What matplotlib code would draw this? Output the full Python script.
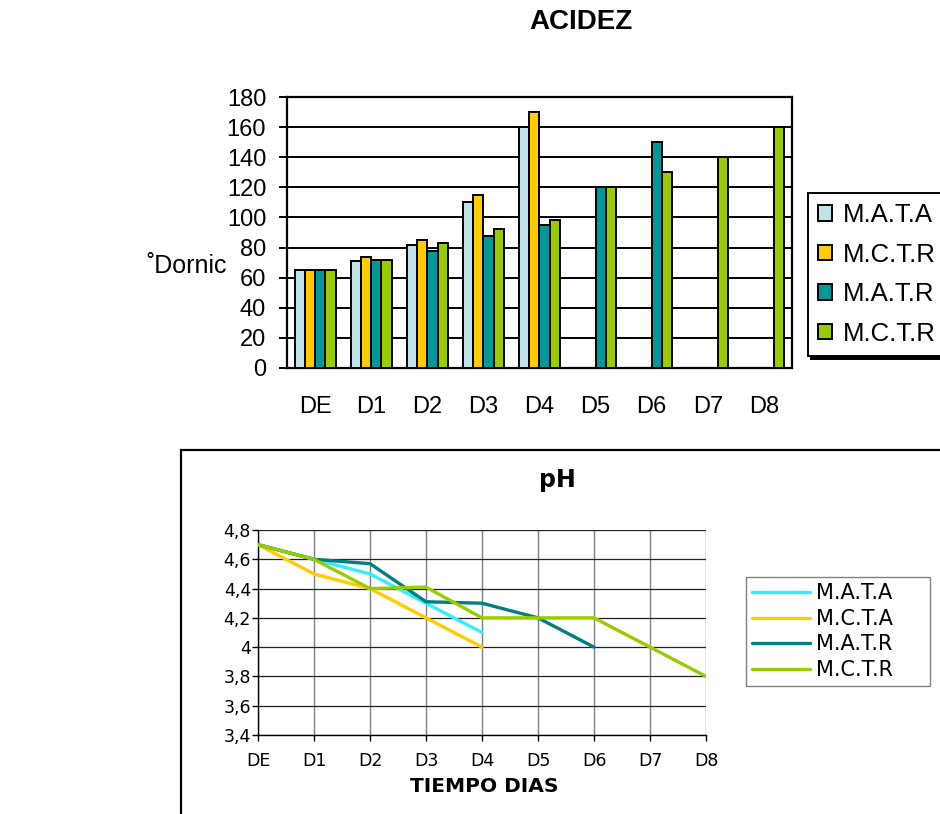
import numpy as np
import matplotlib
matplotlib.use("Agg")
import matplotlib.pyplot as plt
from matplotlib.patches import Rectangle
from matplotlib.ticker import FuncFormatter, MultipleLocator

plt.rcParams['font.family'] = ['Liberation Sans', 'DejaVu Sans']

# --- data ---
days = ['DE', 'D1', 'D2', 'D3', 'D4', 'D5', 'D6', 'D7', 'D8']
nan = np.nan

acid_labels = ['M.A.T.A', 'M.C.T.R', 'M.A.T.R', 'M.C.T.R']
acid_mata = [65, 71, 82, 110, 160, nan, nan, nan, nan]
acid_mcta = [65, 74, 85, 115, 170, nan, nan, nan, nan]
acid_matr = [65, 72, 78, 88, 95, 120, 150, nan, nan]
acid_mctr = [65, 72, 83, 92, 98, 120, 130, 140, 160]
acid_colors = ['#BFE3E6', '#FFCC00', '#009999', '#99CC00']

ph_labels = ['M.A.T.A', 'M.C.T.A', 'M.A.T.R', 'M.C.T.R']
ph_mata = [4.7, 4.6, 4.5, 4.3, 4.1, nan, nan, nan, nan]
ph_mcta = [4.7, 4.5, 4.4, 4.2, 4.0, nan, nan, nan, nan]
ph_matr = [4.7, 4.6, 4.57, 4.31, 4.3, 4.2, 4.0, nan, nan]
ph_mctr = [4.7, 4.6, 4.4, 4.41, 4.2, 4.2, 4.2, 4.0, 3.8]
ph_colors = ['#33EEFF', '#FFCC00', '#008080', '#99CC00']

W, H = 940, 814
fig = plt.figure(figsize=(W / 100, H / 100), dpi=100)

def fx(px):
    return px / W

def fy(py):
    return 1 - py / H

# --- ACIDEZ bar chart ---
ax1 = fig.add_axes([fx(287), fy(368), fx(792) - fx(287), fy(97) - fy(368)])
x = np.arange(len(days))
bw = 0.183
series = [acid_mata, acid_mcta, acid_matr, acid_mctr]
for i, (vals, col, lab) in enumerate(zip(series, acid_colors, acid_labels)):
    ax1.bar(x + (i - 1.5) * bw, vals, bw, color=col, edgecolor='black',
            linewidth=1.4, label=lab, zorder=3)
ax1.set_xlim(-0.5, len(days) - 0.5)
ax1.set_ylim(0, 180)
ax1.yaxis.set_major_locator(MultipleLocator(20))
ax1.grid(axis='y', color='black', linewidth=1.4, zorder=0)
ax1.set_xticks(x)
ax1.set_xticklabels(days)
ax1.tick_params(axis='x', length=0, pad=20, labelsize=17)
ax1.tick_params(axis='y', length=6, width=1.4, labelsize=17, pad=9)
for s in ax1.spines.values():
    s.set_linewidth(1.6)
fig.text(fx(581), fy(22), 'ACIDEZ', ha='center', va='center',
         fontsize=20, fontweight='bold')
fig.text(fx(146), fy(266), '˚Dornic', ha='left', va='center', fontsize=18)

leg1 = ax1.legend(loc='upper left', bbox_to_anchor=(fx(808), fy(193)),
                  bbox_transform=fig.transFigure, frameon=True, fancybox=False,
                  fontsize=18.5, handlelength=0.55, handleheight=0.55,
                  handletextpad=0.4, labelspacing=0.6, borderpad=0.4,
                  borderaxespad=0, shadow={'color': 'black', 'alpha': 1})
leg1.get_frame().set_edgecolor('black')
leg1.get_frame().set_linewidth(1.4)

# --- pH chart frame ---
fig.patches.append(Rectangle((fx(181), -0.05), 1.0, fy(450) + 0.05,
                             transform=fig.transFigure, fill=False,
                             edgecolor='black', linewidth=1.6, zorder=0))

ph_font = ['DejaVu Sans']
ax2 = fig.add_axes([fx(258), fy(735), fx(706) - fx(258), fy(530) - fy(735)])
ph_series = [ph_mata, ph_mcta, ph_matr, ph_mctr]
order = [2, 0, 1, 3]
for i in order:
    ax2.plot(x, ph_series[i], color=ph_colors[i], linewidth=2.4,
             solid_joinstyle='round', solid_capstyle='round',
             label=ph_labels[i], zorder=3 + i)
ax2.set_xlim(0, 8)
ax2.set_ylim(3.4, 4.8)
ax2.yaxis.set_major_locator(MultipleLocator(0.2))
ax2.yaxis.set_major_formatter(FuncFormatter(
    lambda v, p: f"{round(v, 1):g}".replace('.', ',')))
ax2.set_xticks(x)
ax2.set_xticklabels(days)
ax2.grid(axis='x', color='#808080', linewidth=1.0, zorder=0)
ax2.grid(axis='y', color='#202020', linewidth=0.9, zorder=0)
ax2.spines['top'].set_visible(False)
ax2.spines['right'].set_visible(False)
ax2.spines['left'].set_linewidth(1.0)
ax2.spines['bottom'].set_linewidth(1.0)
ax2.tick_params(axis='y', labelsize=12.5, length=4, width=1.0, pad=1)
ax2.tick_params(axis='x', labelsize=12.5, length=4, width=1.0, pad=8)
for lbl in ax2.get_xticklabels() + ax2.get_yticklabels():
    lbl.set_family(ph_font)
fig.text(fx(484), fy(786), 'TIEMPO DIAS', ha='center', va='center',
         fontsize=14.5, fontweight='bold', family=ph_font)
fig.text(fx(557), fy(480), 'pH', ha='center', va='center',
         fontsize=17, fontweight='bold', family=ph_font)

handles, labels = ax2.get_legend_handles_labels()
lookup = dict(zip(labels, handles))
leg2 = ax2.legend([lookup[l] for l in ph_labels], ph_labels,
                  loc='upper left',
                  bbox_to_anchor=(fx(746), fy(687), fx(930) - fx(746),
                                  fy(577) - fy(687)),
                  bbox_transform=fig.transFigure, mode='expand',
                  frameon=True, fancybox=False,
                  prop={'family': ph_font, 'size': 15},
                  handlelength=2.75, handletextpad=0.3,
                  labelspacing=0.27, borderpad=0.3, borderaxespad=0)
leg2.get_frame().set_edgecolor('#606060')
leg2.get_frame().set_linewidth(1.0)

fig.savefig('out.png', dpi=100)
